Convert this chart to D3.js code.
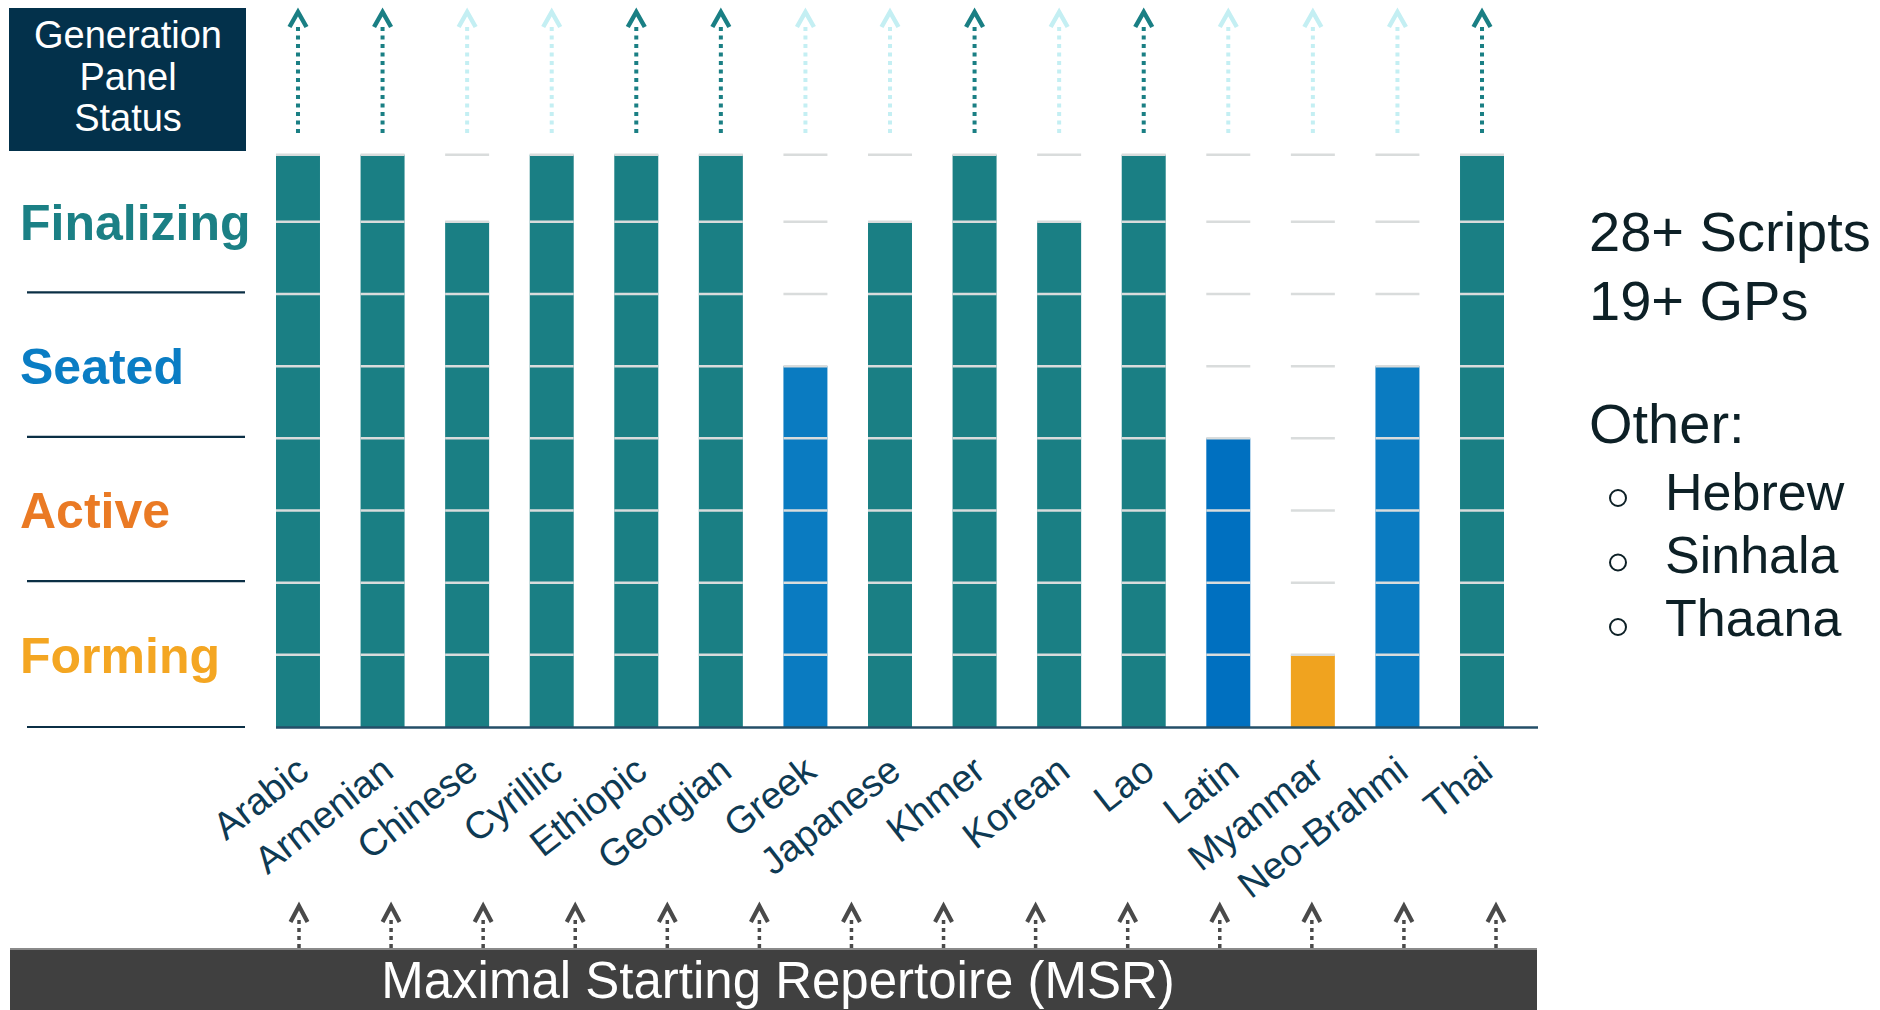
<!DOCTYPE html>
<html>
<head>
<meta charset="utf-8">
<script src="https://cdn.jsdelivr.net/npm/d3@7"></script>
<style>
  html, body { margin: 0; padding: 0; background: #ffffff; }
  svg { display: block; font-family: "Liberation Sans", Arial, Helvetica, sans-serif; }
</style>
</head>
<body>
<svg id="chart" width="1880" height="1010"></svg>
<script>
// ---------------- DATA ----------------
const scripts = ["Arabic", "Armenian", "Chinese", "Cyrillic", "Ethiopic", "Georgian", "Greek",
  "Japanese", "Khmer", "Korean", "Lao", "Latin", "Myanmar", "Neo-Brahmi", "Thai"];
// progress level (in stage units, 0..8)
const progress = [7.93, 7.93, 7, 7.93, 7.93, 7.93, 5, 7, 7.93, 7, 7.93, 4, 1, 5, 7.93];
const status = ["Finalizing", "Finalizing", "Finalizing", "Finalizing", "Finalizing", "Finalizing", "Seated",
  "Finalizing", "Finalizing", "Finalizing", "Finalizing", "SeatedLatin", "Forming", "Seated", "Finalizing"];
// Generation Panel arrow state at top
const gpArrow = ["done", "done", "open", "open", "done", "done", "open",
  "open", "done", "open", "done", "open", "open", "open", "done"];
const stages = ["Forming", "Active", "Seated", "Finalizing"];
const stageBounds = [0, 2, 4, 6, 8];
const gridLevels = [1, 2, 3, 4, 5, 6, 7, 7.93];
const headerLines = ["Generation", "Panel", "Status"];
const statsLines = ["28+ Scripts", "19+ GPs"];
const otherTitle = "Other:";
const otherScripts = ["Hebrew", "Sinhala", "Thaana"];
const msrLabel = "Maximal Starting Repertoire (MSR)";
const msrArrowCount = 14;

// ---------------- STYLE ----------------
const C = {
  teal: "#1a7f84",
  seated: "#0a7bc1",
  seatedLatin: "#0070c0",
  forming: "#f0a31f",
  navy: "#03314b",
  label: "#0e3a53",
  grid: "#d9dcdc",
  gpDone: "#1a7f84",
  gpOpen: "#c4eff3",
  msr: "#404040",
  msrArrow: "#4a4a4a",
  text: "#0d2026"
};
const stageColor = { Forming: "#f4a622", Active: "#ea7a24", Seated: "#0a7dc4", Finalizing: "#1b8085" };
const barColor = d3.scaleOrdinal()
  .domain(["Finalizing", "Seated", "SeatedLatin", "Forming"])
  .range([C.teal, C.seated, C.seatedLatin, C.forming]);

const svg = d3.select("#chart");

// ---------------- SCALES ----------------
const x = d3.scaleBand().domain(scripts).range([276, 1504]).paddingInner(0.48).paddingOuter(0);
const y = d3.scaleLinear().domain([0, 8]).range([727, 149.6]);

// ---------------- HEADER BOX ----------------
svg.append("rect").attr("x", 9).attr("y", 8).attr("width", 237).attr("height", 143).attr("fill", C.navy);
svg.append("g").selectAll("text").data(headerLines).join("text")
  .attr("x", 128).attr("y", (d, i) => 48 + i * 41.5)
  .attr("text-anchor", "middle").attr("fill", "#ffffff")
  .attr("font-size", 38).text(d => d);

// ---------------- STAGE LABELS ----------------
const stageG = svg.append("g");
stageG.selectAll("line").data(stageBounds.slice(0, 4)).join("line")
  .attr("x1", 27).attr("x2", 245)
  .attr("y1", d => y(d) - (d > 0 ? 1.5 : 0)).attr("y2", d => y(d) - (d > 0 ? 1.5 : 0))
  .attr("stroke", "#0b2f45").attr("stroke-width", 2.2);
stageG.selectAll("text").data(stages).join("text")
  .attr("x", 20)
  .attr("y", (d, i) => (y(stageBounds[i]) + y(stageBounds[i + 1])) / 2 + 18)
  .attr("fill", d => stageColor[d])
  .attr("font-weight", "bold").attr("font-size", 50)
  .text(d => d);

// ---------------- BARS ----------------
const bars = svg.append("g");
bars.selectAll("rect").data(scripts).join("rect")
  .attr("x", d => x(d))
  .attr("width", x.bandwidth())
  .attr("y", (d, i) => y(progress[i]))
  .attr("height", (d, i) => y(0) - y(progress[i]))
  .attr("fill", (d, i) => barColor(status[i]));

// per-column grid dashes
const grid = svg.append("g");
scripts.forEach(s => {
  grid.selectAll(null).data(gridLevels).join("line")
    .attr("x1", x(s)).attr("x2", x(s) + x.bandwidth())
    .attr("y1", d => y(d)).attr("y2", d => y(d))
    .attr("stroke", C.grid).attr("stroke-width", 2.5);
});

// baseline axis
svg.append("line")
  .attr("x1", x.range()[0]).attr("x2", 1538)
  .attr("y1", y(0) + 0.5).attr("y2", y(0) + 0.5)
  .attr("stroke", "#244f68").attr("stroke-width", 2.5);

// category labels via axis
const axisG = svg.append("g")
  .attr("transform", `translate(0, ${y(0)})`)
  .call(d3.axisBottom(x).tickSize(0).tickPadding(0));
axisG.select(".domain").remove();
axisG.selectAll(".tick text")
  .attr("font-family", "'Liberation Sans', Arial, sans-serif")
  .attr("font-size", 38)
  .attr("fill", C.label)
  .attr("text-anchor", "end")
  .attr("dy", 0)
  .attr("y", 0)
  .attr("transform", "translate(13, 48) rotate(-38)");

// ---------------- GP ARROWS (top) ----------------
const gpG = svg.append("g");
scripts.forEach((s, i) => {
  const cx = x(s) + x.bandwidth() / 2;
  const col = gpArrow[i] === "done" ? C.gpDone : C.gpOpen;
  gpG.append("line")
    .attr("x1", cx).attr("x2", cx).attr("y1", 133).attr("y2", 24)
    .attr("stroke", col).attr("stroke-width", 4).attr("stroke-dasharray", "4,4.5");
  gpG.append("path")
    .attr("d", `M${cx - 8.5},${27} L${cx},${12} L${cx + 8.5},${27}`)
    .attr("fill", "none").attr("stroke", col).attr("stroke-width", 4.5)
    .attr("stroke-linejoin", "miter");
});

// ---------------- MSR ARROWS (bottom) ----------------
const mx = d3.scalePoint().domain(d3.range(msrArrowCount)).range([299, 1496]);
const msrG = svg.append("g");
mx.domain().forEach(k => {
  const cx = mx(k);
  msrG.append("line")
    .attr("x1", cx).attr("x2", cx).attr("y1", 948).attr("y2", 917)
    .attr("stroke", C.msrArrow).attr("stroke-width", 3.5).attr("stroke-dasharray", "4,4");
  msrG.append("path")
    .attr("d", `M${cx - 8.5},${922} L${cx},${906} L${cx + 8.5},${922}`)
    .attr("fill", "none").attr("stroke", C.msrArrow).attr("stroke-width", 4.2);
});

// MSR bar
svg.append("rect").attr("x", 10).attr("y", 949).attr("width", 1527).attr("height", 70).attr("fill", C.msr);
svg.append("line").attr("x1", 10).attr("x2", 1537).attr("y1", 949).attr("y2", 949)
  .attr("stroke", "#8a8a8a").attr("stroke-width", 2);
svg.append("text").attr("x", 778).attr("y", 998).attr("text-anchor", "middle")
  .attr("fill", "#ffffff").attr("font-size", 51).text(msrLabel);

// ---------------- RIGHT PANEL ----------------
const rp = svg.append("g");
rp.selectAll("text.stat").data(statsLines).join("text").attr("class", "stat")
  .attr("x", 1589).attr("y", (d, i) => 251 + i * 69)
  .attr("font-size", 56).attr("fill", C.text).text(d => d);
rp.append("text").attr("x", 1589).attr("y", 443)
  .attr("font-size", 56).attr("fill", C.text).text(otherTitle);
rp.selectAll("circle").data(otherScripts).join("circle")
  .attr("cx", 1618).attr("cy", (d, i) => 498 + i * 64.5).attr("r", 8)
  .attr("fill", "none").attr("stroke", C.text).attr("stroke-width", 2);
rp.selectAll("text.other").data(otherScripts).join("text").attr("class", "other")
  .attr("x", 1665).attr("y", (d, i) => 510 + i * 63)
  .attr("font-size", 52).attr("fill", C.text).text(d => d);
</script>
</body>
</html>
